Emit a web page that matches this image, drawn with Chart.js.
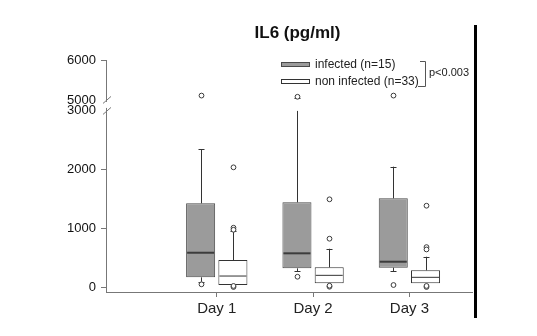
<!DOCTYPE html>
<html>
<head>
<meta charset="utf-8">
<script src="https://cdn.jsdelivr.net/npm/chart.js@4.4.1/dist/chart.umd.min.js"></script>
<style>
  html, body { margin:0; padding:0; background:#fff; }
  #wrap { width:537px; height:336px; }
</style>
</head>
<body>
<div id="wrap"><canvas id="chart"></canvas></div>
<script>
// categories + axis ticks
const days = ['Day 1', 'Day 2', 'Day 3'];
const lowerTicks = [0, 1000, 2000, 3000];
const upperTicks = [5000, 6000];

// infected (n=15)
const infQ1  = [165, 318, 329];
const infQ3  = [1426, 1443, 1511];
const infMed = [584, 574, 431];
const infLo  = [90, 272, 272];
const infHi  = [2350, 5040, 2050];
const infOut = [[46, 5110], [175, 5080], [34, 5110]];

// non infected (n=33)
const nonQ1  = [34, 63, 63];
const nonQ3  = [460, 336, 284];
const nonMed = [187, 199, 165];
const nonLo  = [34, 63, 63];
const nonHi  = [960, 652, 516];
const nonOut = [[2039, 1010, 975, 0, 18], [1494, 823, 5, 22], [1385, 680, 640, 0, 18]];

const FONT = "'Liberation Sans', Arial, sans-serif";
Chart.defaults.font.family = FONT;

function line(ctx, x1, y1, x2, y2){
  ctx.beginPath(); ctx.moveTo(x1, y1); ctx.lineTo(x2, y2); ctx.stroke();
}

// whiskers, medians, outliers drawn on top of the floating bars
const boxParts = {
  id: 'boxParts',
  afterDatasetsDraw(chart){
    const ctx = chart.ctx;
    const yL = chart.scales.y, yU = chart.scales.yU;
    const py = v => v > yL.max ? yU.getPixelForValue(v) : yL.getPixelForValue(v);
    chart.data.datasets.forEach((ds, d) => {
      const st = ds.stats;
      chart.getDatasetMeta(d).data.forEach((bar, i) => {
        const x = Math.round(bar.x) + 0.5, hw = bar.width / 2;
        const top = py(st.q3[i]), bot = py(st.q1[i]);
        ctx.save();
        ctx.strokeStyle = '#333'; ctx.lineWidth = 1;
        // upper whisker
        const hiPx = py(st.hi[i]);
        const hiEnd = st.hi[i] > yL.max ? yL.top : hiPx;
        if (hiEnd < top) line(ctx, x, top, x, hiEnd);
        line(ctx, x - 3, Math.round(hiPx) + 0.5, x + 3, Math.round(hiPx) + 0.5);
        // lower whisker
        const loPx = py(st.lo[i]);
        if (loPx > bot + 1){
          line(ctx, x, bot, x, loPx);
          line(ctx, x - 3, Math.round(loPx) + 0.5, x + 3, Math.round(loPx) + 0.5);
        }
        // median
        ctx.strokeStyle = ds.medianColor; ctx.lineWidth = ds.medianWidth;
        const m = py(st.med[i]);
        line(ctx, bar.x - hw + 1, m, bar.x + hw - 1, m);
        // outliers
        ctx.strokeStyle = '#3a3a3a'; ctx.lineWidth = 1; ctx.fillStyle = '#fff';
        st.out[i].forEach(v => {
          ctx.beginPath(); ctx.arc(x, py(v), 2.4, 0, Math.PI * 2); ctx.fill(); ctx.stroke();
        });
        ctx.restore();
      });
    });
  },
  afterDraw(chart){
    const ctx = chart.ctx;
    const yL = chart.scales.y, yU = chart.scales.yU;
    const ax = chart.chartArea.left;
    const y5 = yU.getPixelForValue(upperTicks[0]);
    const y3 = yL.getPixelForValue(lowerTicks[lowerTicks.length - 1]);
    ctx.save();
    // axis break
    ctx.fillStyle = '#fff';
    ctx.fillRect(ax - 3, y5 + 2, 6, y3 - y5 - 5);
    ctx.strokeStyle = '#777'; ctx.lineWidth = 1;
    line(ctx, ax - 3, y5 + 3.5, ax + 5, y5 - 3.5);
    line(ctx, ax - 3, y3 + 3.5, ax + 5, y3 - 3.5);

    // legend
    const ds = chart.data.datasets;
    const lx = 281.5;
    [[62.5, 0], [79.5, 1]].forEach(([yy, k]) => {
      ctx.fillStyle = ds[k].backgroundColor;
      ctx.strokeStyle = ds[k].borderColor;
      ctx.fillRect(lx, yy, 28, 4);
      ctx.strokeRect(lx, yy, 28, 4);
      ctx.fillStyle = '#222';
      ctx.font = '12px ' + FONT;
      ctx.textBaseline = 'middle';
      ctx.fillText(ds[k].label, 315, yy + 2.5);
    });
    // significance bracket
    ctx.strokeStyle = '#555';
    ctx.beginPath();
    ctx.moveTo(420, 61.5); ctx.lineTo(425.5, 61.5); ctx.lineTo(425.5, 86.5); ctx.lineTo(418, 86.5);
    ctx.stroke();
    ctx.fillStyle = '#222';
    ctx.font = '11px ' + FONT;
    ctx.fillText('p<0.003', 429, 73);

    // black frame edge on the right
    ctx.strokeStyle = '#000'; ctx.lineWidth = 3;
    line(ctx, chart.chartArea.right + 3.5, 25, chart.chartArea.right + 3.5, 318);
    ctx.restore();
  }
};

const infData = days.map((d, i) => ({ x: i + 1, y: [infQ1[i], infQ3[i]] }));
const nonData = days.map((d, i) => ({ x: i + 1, y: [nonQ1[i], nonQ3[i]] }));

const yTicks = {
  color: '#111', font: { size: 13 }, padding: 5, callback: v => String(v)
};

new Chart(document.getElementById('chart'), {
  type: 'bar',
  data: {
    datasets: [
      { label: 'infected (n=15)', data: infData, xAxisID: 'x', yAxisID: 'y',
        backgroundColor: '#9b9b9b', borderColor: '#4a4a4a', borderWidth: 1, borderSkipped: false,
        barPercentage: 0.9, categoryPercentage: 0.67,
        medianColor: '#3c3c3c', medianWidth: 2,
        stats: { q1: infQ1, q3: infQ3, med: infMed, lo: infLo, hi: infHi, out: infOut } },
      { label: 'non infected (n=33)', data: nonData, xAxisID: 'x', yAxisID: 'y',
        backgroundColor: '#ffffff', borderColor: '#333333', borderWidth: 1, borderSkipped: false,
        barPercentage: 0.9, categoryPercentage: 0.67,
        medianColor: '#333333', medianWidth: 1,
        stats: { q1: nonQ1, q3: nonQ3, med: nonMed, lo: nonLo, hi: nonHi, out: nonOut } }
    ]
  },
  options: {
    responsive: true,
    maintainAspectRatio: false,
    animation: false,
    layout: { padding: { left: 58, right: 0, top: 0, bottom: 0 } },
    plugins: {
      legend: { display: false },
      tooltip: { enabled: false },
      title: { display: true, text: 'IL6 (pg/ml)', fullSize: true, color: '#111',
               font: { size: 17, weight: 'bold' }, padding: { top: 23, bottom: 17 } }
    },
    scales: {
      x: {
        type: 'linear', min: -0.15, max: 3.65, offset: false,
        grid: { drawOnChartArea: false, offset: false, tickLength: 5, tickColor: '#777' },
        border: { color: '#777' },
        afterBuildTicks: s => { s.ticks = days.map((d, i) => ({ value: i + 1 })); },
        ticks: { callback: v => days[v - 1], color: '#222', font: { size: 15 }, padding: 3,
                 autoSkip: false, maxRotation: 0 },
        afterFit: s => { s.height = 44; }
      },
      y: {
        type: 'linear', position: 'left', stack: 'ybreak', stackWeight: 181,
        min: -85, max: 3000,
        grid: { drawOnChartArea: false, tickLength: 5,
                tickColor: c => (c.tick && c.tick.value === 3000) ? 'rgba(0,0,0,0)' : '#777' },
        border: { color: '#777' },
        afterBuildTicks: s => { s.ticks = lowerTicks.map(v => ({ value: v })); },
        ticks: yTicks,
        afterFit: s => { s.width = 48; }
      },
      yU: {
        type: 'linear', position: 'left', stack: 'ybreak', stackWeight: 50.5,
        min: 4722, max: 6000,
        grid: { drawOnChartArea: false, tickLength: 5,
                tickColor: c => (c.tick && c.tick.value === 5000) ? 'rgba(0,0,0,0)' : '#777' },
        border: { color: '#777' },
        afterBuildTicks: s => { s.ticks = upperTicks.map(v => ({ value: v })); },
        ticks: yTicks,
        afterFit: s => { s.width = 48; }
      },
      yR: {
        type: 'linear', position: 'right', display: true,
        grid: { display: false }, border: { display: false }, ticks: { display: false },
        afterFit: s => { s.width = 65; }
      }
    }
  },
  plugins: [boxParts]
});
</script>
</body>
</html>
